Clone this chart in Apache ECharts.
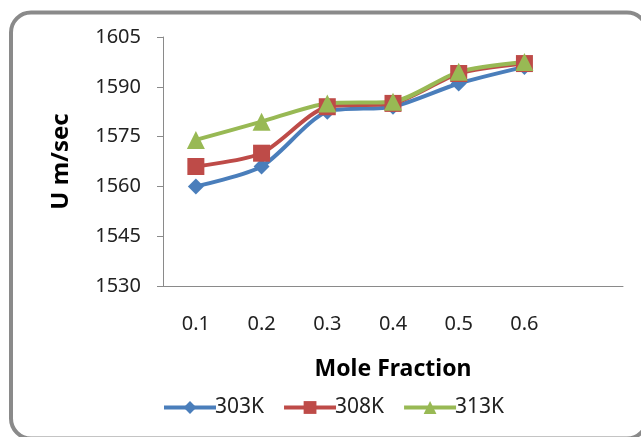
<!DOCTYPE html>
<html><head><meta charset="utf-8">
<script src="https://cdn.jsdelivr.net/npm/echarts@6/dist/echarts.min.js"></script>
<style>html,body{margin:0;padding:0;background:#fff}#c{width:641px;height:437px}</style>
</head><body><div id="c"></div>
<script>
var categories = ['0.1','0.2','0.3','0.4','0.5','0.6',''];
var s303 = [1560, 1566, 1582.5, 1584, 1591, 1596];
var s308 = [1566, 1570, 1584, 1585, 1594, 1597];
var s313 = [1574, 1579.5, 1585, 1585.5, 1594.5, 1597.5];
var seriesNames = ['303K','308K','313K'];
var yTicks = {min:1530, max:1605, step:15};

var font = 'Noto Sans';
var colors = ['#4A7EBB', '#BE4B48', '#98B954'];
var chart = echarts.init(document.getElementById('c'), null, {renderer:'canvas'});
function mk(name, data, color, symbol, size){
  return {name:name, type:'line', data:data, smooth:0.25, symbol:symbol, symbolSize:size,
    lineStyle:{color:color, width:4}, itemStyle:{color:color}, z:2};
}
chart.setOption({
  animation:false,
  textStyle:{fontFamily:font},
  graphic:[{type:'rect', shape:{x:11, y:12.5, width:636, height:426, r:20},
    style:{fill:'none', stroke:'#8a8a8a', lineWidth:4}, z:-1}],
  grid:{left:163, right:18, top:37, bottom:151},
  legend:{left:157, top:392, itemWidth:52, itemHeight:16, itemGap:18,
    textStyle:{fontFamily:font, fontSize:21, color:'#222', padding:[0,0,0,-6]},
    data:seriesNames.map(function(n,i){return {name:n, lineStyle:{width:4, color:colors[i]}};})},
  xAxis:{type:'category', data:categories, boundaryGap:true,
    axisLine:{lineStyle:{color:'#8a8a8a', width:1}}, axisTick:{show:false},
    axisLabel:{margin:28, fontSize:20, color:'#222', fontFamily:font, interval:0},
    name:'Mole Fraction', nameLocation:'middle', nameGap:72,
    nameTextStyle:{fontSize:23, fontWeight:'bold', color:'#000', fontFamily:font}},
  yAxis:{type:'value', min:yTicks.min, max:yTicks.max, interval:yTicks.step,
    axisLine:{show:true, lineStyle:{color:'#8a8a8a', width:1}},
    axisTick:{show:true, length:6, lineStyle:{color:'#8a8a8a'}},
    splitLine:{show:false},
    axisLabel:{margin:22, fontSize:20, color:'#222', fontFamily:font, formatter:function(v){return String(v);}},
    name:'U m/sec', nameLocation:'middle', nameGap:90, nameRotate:90,
    nameTextStyle:{fontSize:24, fontWeight:'bold', color:'#000', fontFamily:font}},
  series:[
    mk(seriesNames[0], s303, colors[0], 'diamond', 16),
    mk(seriesNames[1], s308, colors[1], 'rect', 17),
    mk(seriesNames[2], s313, colors[2], 'triangle', 18)
  ]
});
</script></body></html>
